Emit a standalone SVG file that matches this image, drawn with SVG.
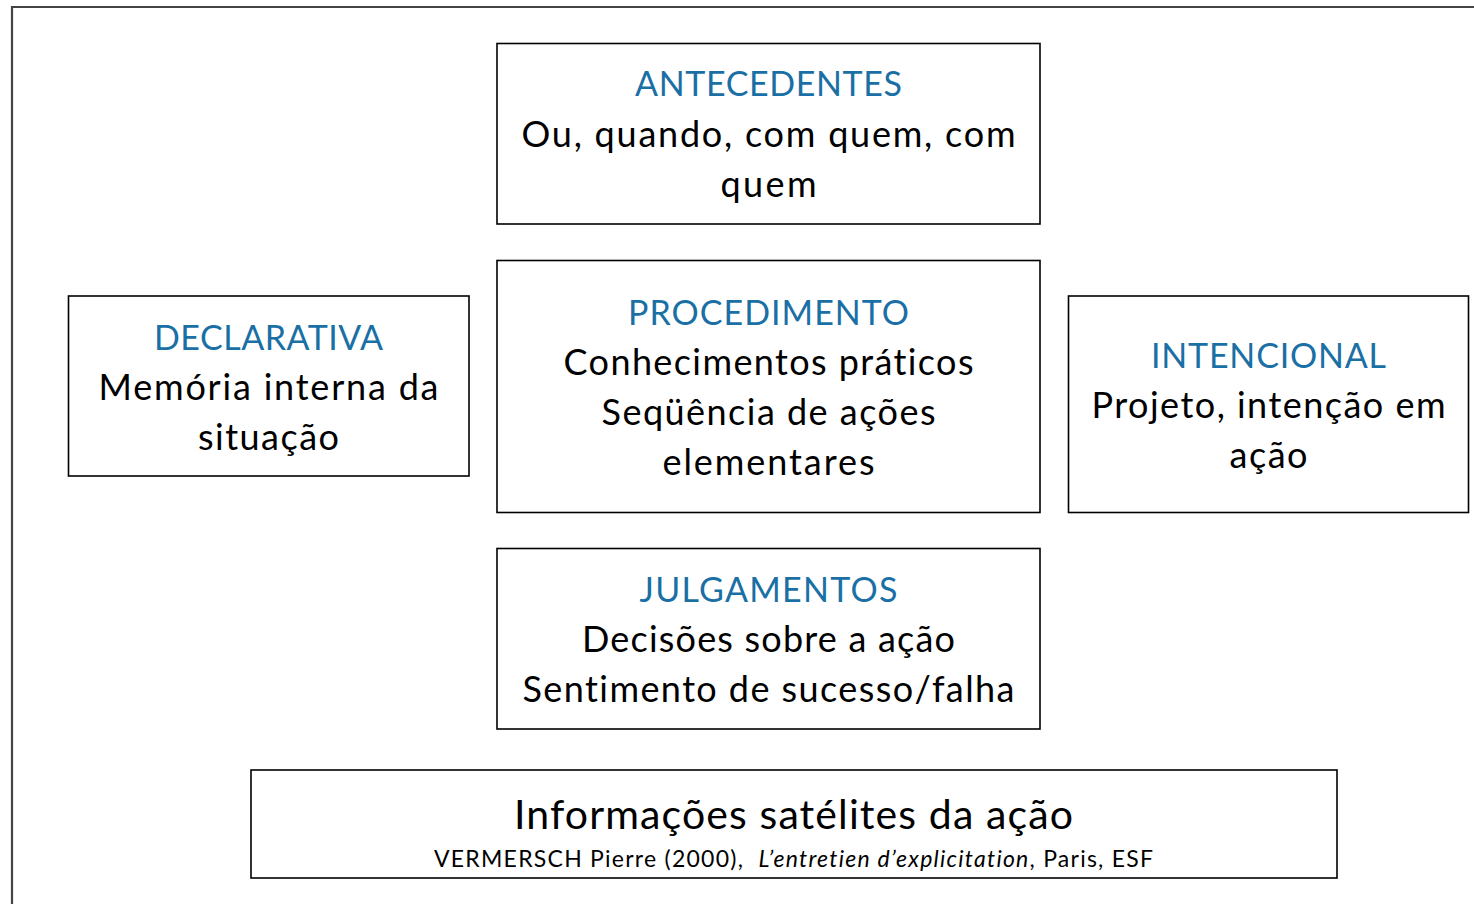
<svg xmlns="http://www.w3.org/2000/svg" width="1474" height="904" viewBox="0 0 1474 904">
<style>
.box{fill:#fff;stroke:#000;stroke-width:1.6}
.frame{fill:none;stroke:#444;stroke-width:2.2}
text{font-family:Lato,"Open Sans","Liberation Sans",sans-serif;text-anchor:middle;font-variant-ligatures:none;white-space:pre}
.t{font-size:34px;fill:#1a6fa5}
.b{font-size:36px;fill:#000}
.big{font-size:41px;fill:#000}
.ref{font-size:23px;fill:#000}
</style>
<rect width="1474" height="904" fill="#fff"/>
<path class="frame" d="M12 904 V7 H1474"/>
<g id="connectors"></g>
<g id="antecedentes">
<rect class="box" x="497" y="43.5" width="543" height="180.5"/>
<text class="t" x="768.5" y="96" textLength="267">ANTECEDENTES</text>
<text class="b" x="768.5" y="147" textLength="494">Ou, quando, com quem, com</text>
<text class="b" x="768.5" y="197" textLength="96">quem</text>
</g>
<g id="declarativa">
<rect class="box" x="68.5" y="296" width="400.5" height="180"/>
<text class="t" x="268.5" y="350" textLength="229">DECLARATIVA</text>
<text class="b" x="268.5" y="400" textLength="340">Memória interna da</text>
<text class="b" x="268.5" y="450" textLength="141">situação</text>
</g>
<g id="procedimento">
<rect class="box" x="497" y="260.5" width="543" height="252"/>
<text class="t" x="768.5" y="325" textLength="281">PROCEDIMENTO</text>
<text class="b" x="768.5" y="375" textLength="410">Conhecimentos práticos</text>
<text class="b" x="768.5" y="425" textLength="334">Seqüência de ações</text>
<text class="b" x="768.5" y="475" textLength="212">elementares</text>
</g>
<g id="intencional">
<rect class="box" x="1068.5" y="296" width="400" height="216.5"/>
<text class="t" x="1268.5" y="368" textLength="235">INTENCIONAL</text>
<text class="b" x="1268.5" y="418" textLength="354">Projeto, intenção em</text>
<text class="b" x="1268.5" y="468" textLength="78">ação</text>
</g>
<g id="julgamentos">
<rect class="box" x="497" y="548.5" width="543" height="180.5"/>
<text class="t" x="768.5" y="602" textLength="258">JULGAMENTOS</text>
<text class="b" x="768.5" y="652" textLength="373">Decisões sobre a ação</text>
<text class="b" x="768.5" y="702" textLength="492">Sentimento de sucesso/falha</text>
</g>
<g id="informacoes">
<rect class="box" x="251" y="770" width="1086" height="108"/>
<text class="big" x="793.5" y="829" textLength="559">Informações satélites da ação</text>
<text class="ref" x="793.5" y="867" textLength="719">VERMERSCH Pierre (2000),  <tspan font-style="italic">L’entretien d’explicitation</tspan>, Paris, ESF</text>
</g>
</svg>
